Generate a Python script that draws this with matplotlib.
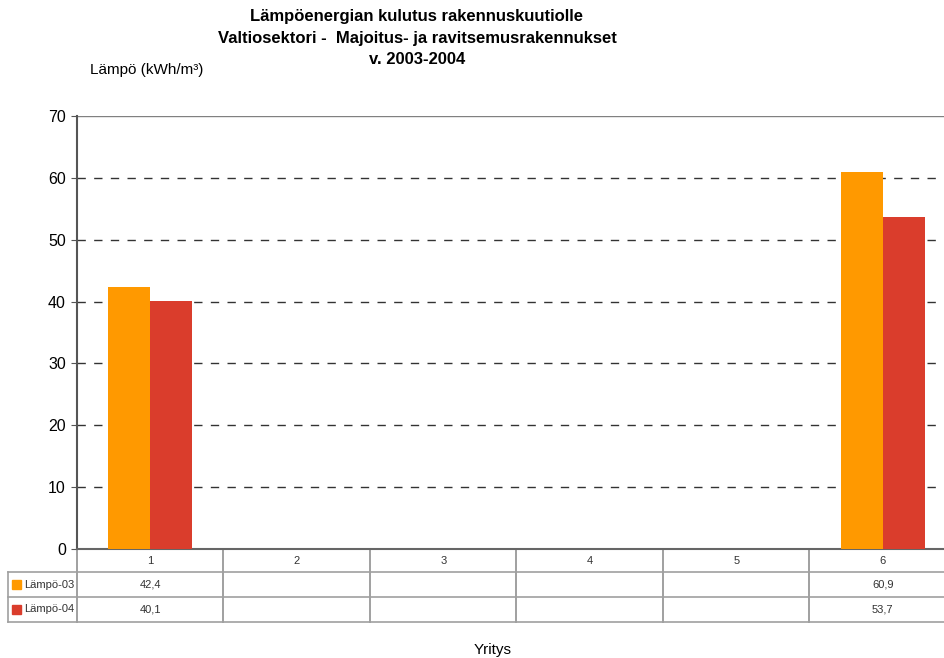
import numpy as np
import matplotlib.pyplot as plt
from matplotlib.transforms import blended_transform_factory

plt.rcParams['font.family'] = ['Liberation Sans', 'DejaVu Sans']

categories = ["1", "2", "3", "4", "5", "6"]
series_names = ["Lämpö-03", "Lämpö-04"]
lampo_03 = [42.4, None, None, None, None, 60.9]
lampo_04 = [40.1, None, None, None, None, 53.7]
colors = ["#FF9900", "#DA3D2C"]

fig = plt.figure(figsize=(9.45, 6.58), dpi=100)
# the plot area runs a bit past the right edge of the picture, as in the original
ax_w = 879
ax = fig.add_axes([77 / 945, 1 - 549 / 658, ax_w / 945, 433 / 658])

x = np.arange(1, len(categories) + 1)
w = 0.287
for i, (vals, col) in enumerate(zip([lampo_03, lampo_04], colors)):
    v = np.array([np.nan if a is None else a for a in vals], dtype=float)
    ax.bar(x + (i - 0.5) * w, np.nan_to_num(v), width=w, color=col, zorder=3)

ax.set_xlim(0.5, 6.5)
ax.set_ylim(0, 70)
ax.set_yticks(range(0, 71, 10))
ax.set_xticks([])
for yv in range(10, 70, 10):
    ax.axhline(yv, color="#333333", lw=1, ls=(0, (6, 6)), zorder=1)
ax.axhline(70, color="#808080", lw=1, zorder=1)
for s in ["top", "right"]:
    ax.spines[s].set_visible(False)
ax.spines["left"].set_color("#555555")
ax.spines["left"].set_linewidth(1.5)
ax.spines["bottom"].set_color("#666666")
ax.spines["bottom"].set_linewidth(1.5)
ax.tick_params(axis="y", labelsize=11.5, length=4, color="#555555", pad=4)

# data table under the axis
tr = blended_transform_factory(ax.transData, ax.transAxes)
h = 433.0
y_head = -23 / h
y_r1 = -48 / h
y_r2 = -73 / h
x_left = -69 / ax_w
lc = "#A0A0A0"
tfs = 8
tc = "#333333"
for b in np.arange(0.5, 7.0, 1.0):
    ax.plot([b, b], [0, y_r2], transform=tr, color=lc, lw=1.4, clip_on=False)
for yy in [y_head, y_r1, y_r2]:
    ax.plot([x_left, 1], [yy, yy], transform=ax.transAxes, color=lc, lw=1.2, clip_on=False)
ax.plot([x_left, x_left], [y_head, y_r2], transform=ax.transAxes, color=lc, lw=1.2, clip_on=False)

for xi, c in zip(x, categories):
    ax.text(xi, (0 + y_head) / 2, c, transform=tr, ha="center", va="center",
            fontsize=tfs, color=tc)
row_y = [(y_head + y_r1) / 2, (y_r1 + y_r2) / 2]
for vals, yc in zip([lampo_03, lampo_04], row_y):
    for xi, v in zip(x, vals):
        if v is not None:
            ax.text(xi, yc, f"{v:.1f}".replace(".", ","), transform=tr, ha="center",
                    va="center", fontsize=tfs, color=tc)

for name, col, yc in zip(series_names, colors, row_y):
    ax.add_patch(plt.Rectangle((-65 / ax_w, yc - 4.5 / h), 9 / ax_w, 9 / h,
                               transform=ax.transAxes, color=col, clip_on=False))
    ax.text(-53 / ax_w, yc, name, transform=ax.transAxes, ha="left", va="center",
            fontsize=tfs, color=tc)

fig.text(417 / 945, 1 - 17 / 658, "Lämpöenergian kulutus rakennuskuutiolle", ha="center",
         va="center", fontsize=12, fontweight="bold")
fig.text(417 / 945, 1 - 38 / 658, "Valtiosektori -  Majoitus- ja ravitsemusrakennukset",
         ha="center", va="center", fontsize=12, fontweight="bold")
fig.text(417 / 945, 1 - 59 / 658, "v. 2003-2004", ha="center", va="center",
         fontsize=12, fontweight="bold")
fig.text(90 / 945, 1 - 70 / 658, "Lämpö (kWh/m³)", ha="left", va="center", fontsize=11)
fig.text(493 / 945, 1 - 650 / 658, "Yritys", ha="center", va="center", fontsize=11)

fig.savefig("out.png", dpi=100)
